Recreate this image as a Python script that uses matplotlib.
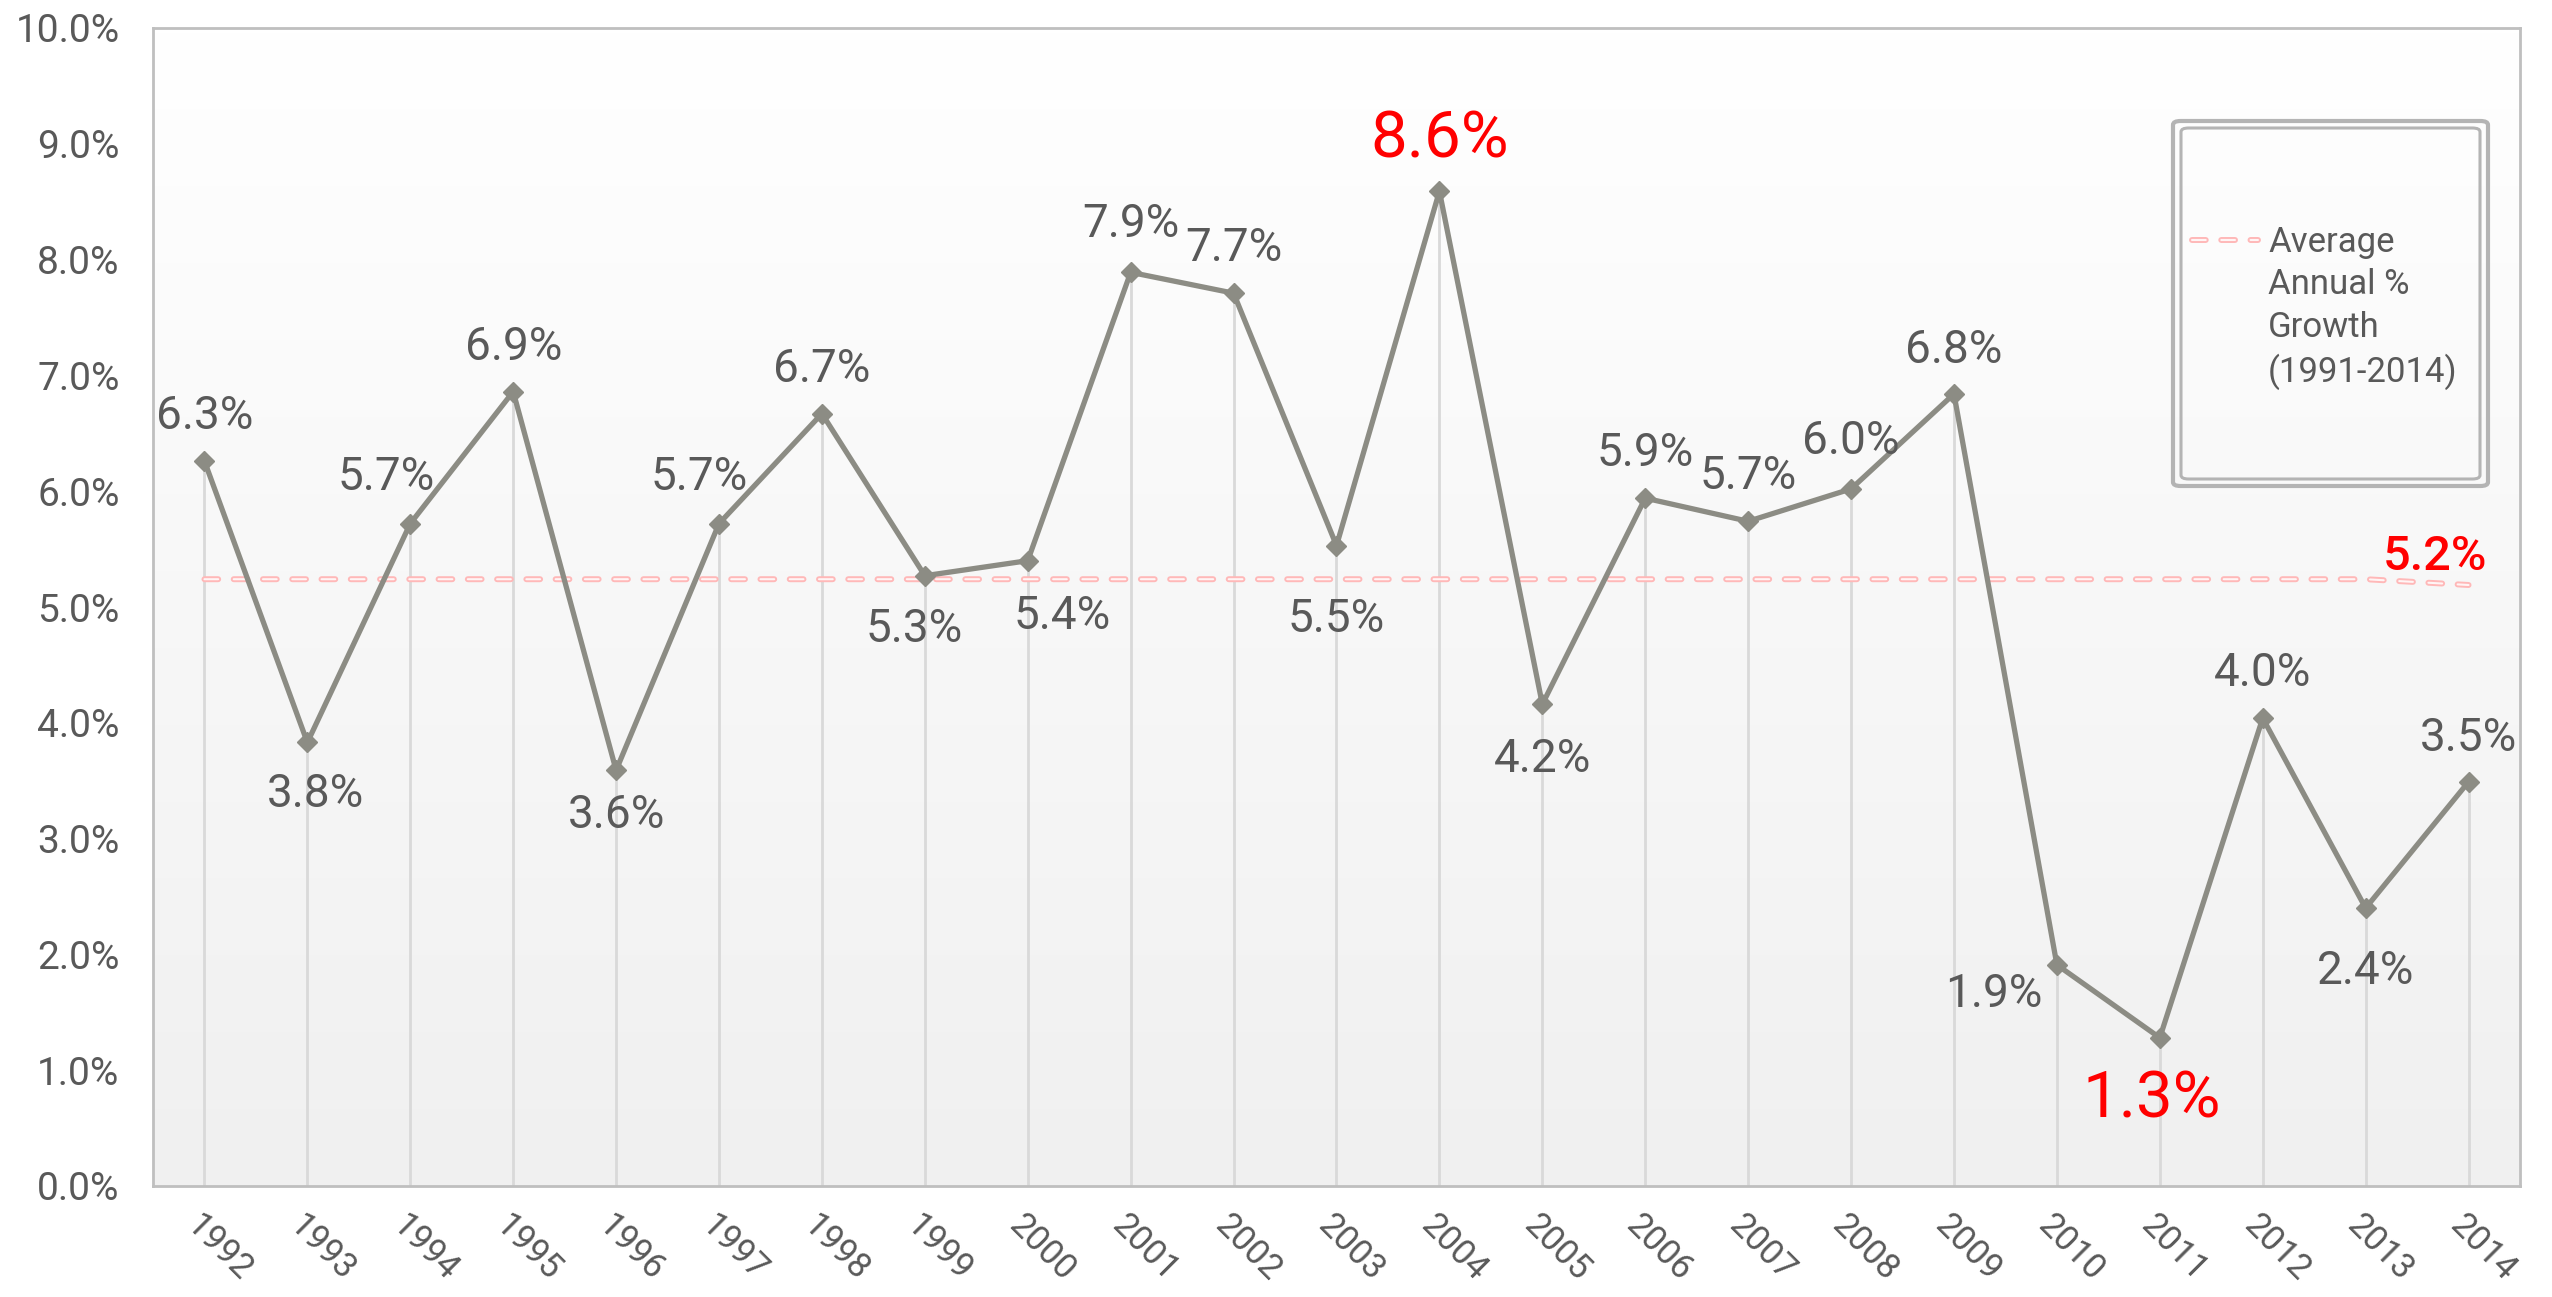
import matplotlib.pyplot as plt
import matplotlib.transforms as mtransforms
from matplotlib.lines import Line2D
from matplotlib.patches import FancyBboxPatch
import numpy as np

years = ['1992', '1993', '1994', '1995', '1996', '1997', '1998', '1999', '2000', '2001', '2002', '2003',
         '2004', '2005', '2006', '2007', '2008', '2009', '2010', '2011', '2012', '2013', '2014']
growth = [6.26, 3.83, 5.72, 6.86, 3.59, 5.72, 6.67, 5.27, 5.40, 7.89, 7.71, 5.53,
          8.59, 4.16, 5.94, 5.74, 6.02, 6.84, 1.91, 1.28, 4.04, 2.40, 3.49]
average = [5.24, 5.24, 5.24, 5.24, 5.24, 5.24, 5.24, 5.24, 5.24, 5.24, 5.24, 5.24,
           5.24, 5.24, 5.24, 5.24, 5.24, 5.24, 5.24, 5.24, 5.24, 5.24, 5.19]
avg_label = 'Average\nAnnual %\nGrowth\n(1991-2014)'
yticks = [0, 1, 2, 3, 4, 5, 6, 7, 8, 9, 10]

# label offsets in pixels (dx, dy), layout only
offsets = [(0, 45), (8, -52), (-24, 47), (0, 45), (0, -45), (-20, 47), (0, 45), (-11, -53), (34, -55),
           (0, 48), (0, 45), (0, -73), (0, 52), (0, -55), (0, 45), (0, 45), (0, 48), (0, 44),
           (-63, -29), (-8, -62), (0, 45), (0, -63), (0, 44)]
highlight = {12, 19}

GRAY_TXT = '#595959'
LINE_C = '#8c8c84'
W, H = 2552, 1297

plt.rcParams['font.family'] = ['Roboto', 'DejaVu Sans']

fig = plt.figure(figsize=(W / 100, H / 100), dpi=100)
ax = fig.add_axes([153 / W, 1 - 1186 / H, (2520 - 153) / W, (1186 - 28) / H])

x = np.arange(1, len(years) + 1)
ax.set_xlim(0.5, len(years) + 0.5)
ax.set_ylim(0, 10)

# gradient background
grad = np.linspace(0, 1, 256).reshape(-1, 1)
ax.imshow(grad, extent=[0.5, len(years) + 0.5, 0, 10], aspect='auto', origin='lower',
          cmap=plt.matplotlib.colors.LinearSegmentedColormap.from_list('bg', ['#f0f0f0', '#ffffff']),
          zorder=0)

# drop lines
ax.vlines(x, 0, growth, color='#d9d9d9', lw=2, zorder=1)

# average line (outlined dashes)
OUT_LW, IN_LW = 4.3, 1.5
DASH = (2.3, 2.6)
out_ls = (0, DASH)
in_ls = (0, (DASH[0] * OUT_LW / IN_LW, DASH[1] * OUT_LW / IN_LW))
ax.plot(x, average, color='#ffb8b8', lw=OUT_LW, ls=out_ls, dash_capstyle='round', zorder=2)
ax.plot(x, average, color='#fff5f5', lw=IN_LW, ls=in_ls, dash_capstyle='round', zorder=2)

ax.plot(x, growth, color=LINE_C, lw=3.8, marker='D', ms=10, zorder=3)

for i, (v, (dx, dy)) in enumerate(zip(growth, offsets)):
    if i in highlight:
        ax.annotate(f'{v:.1f}%', (x[i], v), xytext=(dx * 0.72, dy * 0.72), textcoords='offset points',
                    ha='center', va='center', fontsize=47, color='#ff0000')
    else:
        ax.annotate(f'{v:.1f}%', (x[i], v), xytext=(dx * 0.72, dy * 0.72), textcoords='offset points',
                    ha='center', va='center', fontsize=33, color=GRAY_TXT)

ax.annotate(f'{average[-1]:.1f}%', (x[-1], average[-1]), xytext=(-34 * 0.72, 28 * 0.72),
            textcoords='offset points', ha='center', va='center', fontsize=35, color='#ff0000',
            fontweight='medium')

ax.set_yticks(yticks)
ax.set_yticklabels([f'{t:.1f}%' for t in yticks], fontsize=28, color=GRAY_TXT)
ax.set_xticks(x)
ax.set_xticklabels(years, fontsize=25, color=GRAY_TXT, rotation=-45, ha='left',
                   rotation_mode='anchor')
ax.tick_params(axis='both', length=0)
ax.tick_params(axis='y', pad=24)
ax.tick_params(axis='x', pad=16)
shift = mtransforms.ScaledTranslation(-0.02, 0, fig.dpi_scale_trans)
for lbl in ax.get_xticklabels():
    lbl.set_transform(lbl.get_transform() + shift)

for s in ax.spines.values():
    s.set_color('#bfbfbf')
    s.set_linewidth(2)

# legend box with double frame
for (x0, y0, x1, y1, lw) in [(2173, 121, 2488, 486, 3), (2181, 128, 2480, 479, 2.2)]:
    fig.add_artist(FancyBboxPatch((x0 / W, 1 - y1 / H), (x1 - x0) / W, (y1 - y0) / H,
                                  boxstyle='round,pad=0,rounding_size=0.003', transform=fig.transFigure,
                                  fill=False, edgecolor='#b4b4b4', lw=lw))
fig.add_artist(Line2D([2192 / W, 2258 / W], [1 - 240 / H, 1 - 240 / H], color='#ffb8b8', lw=OUT_LW,
                      ls=out_ls, dash_capstyle='round'))
fig.add_artist(Line2D([2192 / W, 2258 / W], [1 - 240 / H, 1 - 240 / H], color='#fff5f5', lw=IN_LW,
                      ls=in_ls, dash_capstyle='round'))
fig.text(2268 / W, 1 - 226 / H, avg_label, ha='left', va='top', fontsize=25, color=GRAY_TXT,
         linespacing=1.36)

fig.savefig('out.png', dpi=100)
